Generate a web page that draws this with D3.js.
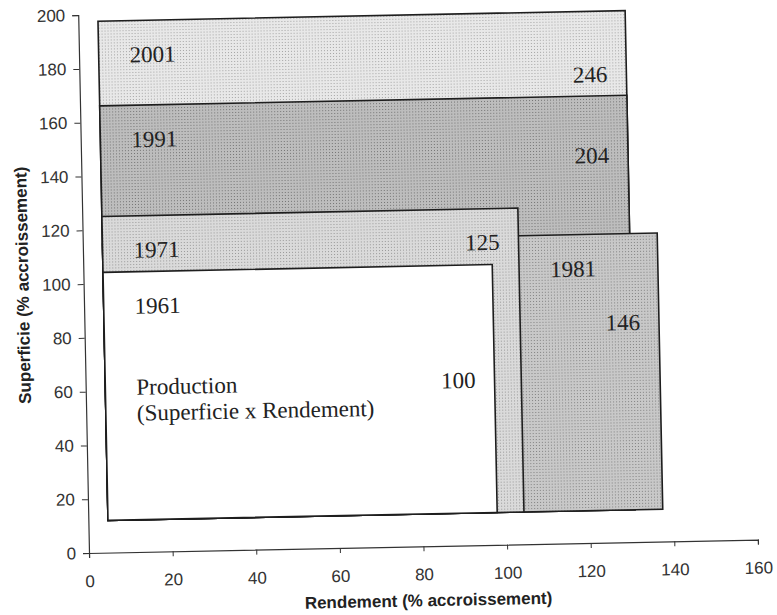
<!DOCTYPE html>
<html>
<head>
<meta charset="utf-8">
<script src="https://cdn.jsdelivr.net/npm/d3@7"></script>
<style>
  body { margin: 0; background: #fff; }
  svg { display: block; }
</style>
</head>
<body>
<div id="vizContainer"></div>
<script>
// one rectangle per year, all drawn from the same lower-left corner
var annees = ['1961', '1971', '1981', '1991', '2001'];
var rendement = [97.8, 104.2, 137.4, 130.8, 130.8];   // right edge (% accroissement)
var superficie = [104.2, 125, 114.7, 166.1, 197.6];  // top edge (% accroissement)
var production = [100, 125, 146, 204, 246];
var productionY = [58.5, 109.6, 78.8, 141.1, 171.2]; // height where the production figure sits
var coinBas = [4.7, 12];                              // shared lower-left corner (rendement, superficie)

var xTicks = d3.range(0, 161, 20);
var yTicks = d3.range(0, 201, 20);
var xMinor = d3.range(0, 161, 4);
var yMinor = d3.range(0, 201, 4);

var width = 777, height = 615;
var origin = { x: 89, y: 553 };

// fill of each year, a halftone-like dot pattern like the scan
var trames = {
    '2001': { bg: '#e8e8e8', dot: '#a4a4a4' },
    '1991': { bg: '#bdbdbd', dot: '#747474' },
    '1981': { bg: '#c8c8c8', dot: '#828282' },
    '1971': { bg: '#dadada', dot: '#989898' },
    '1961': null
};

// this function will initialize the svg and its patterns
function initializeSvg(width, height){
    var svg = d3.select('#vizContainer').append('svg')
        .attr('width', width)
        .attr('height', height)
        .attr('viewBox', '0 0 ' + width + ' ' + height)
        .attr('id', 'visualizations');

    var defs = svg.append('defs');
    Object.keys(trames).forEach(function(k){
        var t = trames[k];
        if (!t) return;
        var p = defs.append('pattern')
            .attr('id', 'trame' + k)
            .attr('width', 3).attr('height', 3)
            .attr('patternUnits', 'userSpaceOnUse');
        p.append('rect').attr('width', 3).attr('height', 3).attr('fill', t.bg);
        p.append('rect').attr('x', 1).attr('y', 1).attr('width', 1).attr('height', 1).attr('fill', t.dot);
    });
    return svg;
}

var svg = initializeSvg(width, height);

// the scanned page is slightly tilted, so the whole chart is turned a little
var chart = svg.append('g')
    .attr('transform', 'rotate(-1.15,' + origin.x + ',' + origin.y + ')');

var x = d3.scaleLinear().domain([0, 160]).range([origin.x, origin.x + 669]);
var y = d3.scaleLinear().domain([0, 200]).range([origin.y, origin.y - 538]);

// rectangles, biggest first so the older years sit on top
var order = d3.range(annees.length).reverse();
chart.append('g').selectAll('rect')
    .data(order)
    .join('rect')
    .attr('x', function(i){ return x(coinBas[0]); })
    .attr('y', function(i){ return y(superficie[i]); })
    .attr('width', function(i){ return x(rendement[i]) - x(coinBas[0]); })
    .attr('height', function(i){ return y(coinBas[1]) - y(superficie[i]); })
    .attr('fill', function(i){ return trames[annees[i]] ? 'url(#trame' + annees[i] + ')' : '#fff'; })
    .attr('stroke', '#1e1e1e')
    .attr('stroke-width', 1.6);

// left edge still visible for a label at height v: rectangles drawn later may cover it
function visibleLeft(i, v){
    var left = coinBas[0];
    for (var j = 0; j < i; j++) {
        if (superficie[j] >= v) left = Math.max(left, rendement[j]);
    }
    return left;
}

var labels = chart.append('g')
    .attr('font-family', '"Liberation Serif", "Times New Roman", serif')
    .attr('font-size', 23)
    .attr('fill', '#222');

// year in the upper left corner of each rectangle
labels.selectAll('text.annee')
    .data(d3.range(annees.length))
    .join('text')
    .attr('class', 'annee')
    .attr('x', function(i){ return x(visibleLeft(i, y.invert(y(superficie[i]) + 42))) + 31; })
    .attr('y', function(i){ return y(superficie[i]) + 42; })
    .text(function(i){ return annees[i]; });

// production figure near the right edge
labels.selectAll('text.valeur')
    .data(d3.range(annees.length))
    .join('text')
    .attr('class', 'valeur')
    .attr('text-anchor', 'end')
    .attr('x', function(i){ return x(rendement[i]) - 19; })
    .attr('y', function(i){ return y(productionY[i]); })
    .text(function(i){ return production[i]; });

// legend text inside the 1961 box
var legende = labels.append('text')
    .attr('x', x(visibleLeft(0, productionY[0])) + 31)
    .attr('y', y(productionY[0]));
legende.append('tspan').text('Production');
legende.append('tspan')
    .attr('x', x(visibleLeft(0, productionY[0])) + 31)
    .attr('dy', 26)
    .text('(Superficie x Rendement)');

// axes
var xAxis = chart.append('g').attr('transform', 'translate(0,' + origin.y + ')');
xAxis.call(d3.axisBottom(x).tickValues(xMinor).tickFormat('').tickSize(3));
xAxis.call(d3.axisBottom(x).tickValues(xTicks).tickSize(5).tickPadding(17).tickFormat(d3.format('d')));

var yAxis = chart.append('g').attr('transform', 'translate(' + origin.x + ',0)');
yAxis.call(d3.axisLeft(y).tickValues(yMinor).tickFormat('').tickSize(3));
yAxis.call(d3.axisLeft(y).tickValues(yTicks).tickSize(6).tickPadding(7).tickFormat(d3.format('d')));

chart.selectAll('.domain').attr('stroke', '#333').attr('stroke-width', 1.2);
chart.selectAll('.tick line').attr('stroke', '#333');
chart.selectAll('.tick text')
    .attr('font-family', '"Liberation Sans", Arial, sans-serif')
    .attr('font-size', 17)
    .attr('fill', '#333');

// axis titles
chart.append('text')
    .attr('x', x(80) + 4)
    .attr('y', 613)
    .attr('text-anchor', 'middle')
    .attr('font-family', '"Liberation Sans", Arial, sans-serif')
    .attr('font-size', 17)
    .attr('font-weight', 'bold')
    .attr('fill', '#222')
    .text('Rendement (% accroissement)');

chart.append('text')
    .attr('transform', 'translate(28,' + y(100) + ') rotate(-90)')
    .attr('dy', '0.35em')
    .attr('text-anchor', 'middle')
    .attr('font-family', '"Liberation Sans", Arial, sans-serif')
    .attr('font-size', 17)
    .attr('font-weight', 'bold')
    .attr('fill', '#222')
    .text('Superficie (% accroissement)');
</script>
</body>
</html>
